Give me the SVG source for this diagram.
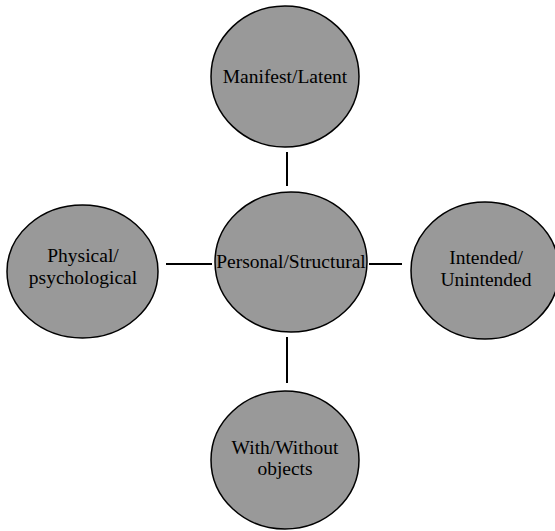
<svg xmlns="http://www.w3.org/2000/svg" width="555" height="531" viewBox="0 0 555 531">
<style>
.n{fill:#999999;stroke:#000;stroke-width:1.5}
.t{font-family:"Liberation Serif","Times New Roman",serif;font-size:19.5px;fill:#000;text-anchor:middle}
.c{stroke:#000;stroke-width:2;fill:none}
</style>
<rect width="555" height="531" fill="#fff"/>
<g id="connectors">
<line class="c" x1="287" y1="152" x2="287" y2="186"/>
<line class="c" x1="287" y1="337" x2="287" y2="383"/>
<line class="c" x1="166" y1="264" x2="212" y2="264"/>
<line class="c" x1="369" y1="264" x2="402" y2="264"/>
</g>
<g id="manifest">
<ellipse class="n" cx="285" cy="76.5" rx="74" ry="70.5"/>
<text class="t" x="285" y="83">Manifest/Latent</text>
</g>
<g id="personal">
<ellipse class="n" cx="291" cy="262" rx="76" ry="70"/>
<text class="t" x="291" y="268">Personal/Structural</text>
</g>
<g id="physical">
<ellipse class="n" cx="82.5" cy="271.5" rx="75.5" ry="66.5"/>
<text class="t" x="83" y="262">Physical/</text>
<text class="t" x="83" y="284">psychological</text>
</g>
<g id="intended">
<ellipse class="n" cx="485" cy="270.5" rx="74" ry="68.5"/>
<text class="t" x="486" y="264">Intended/</text>
<text class="t" x="486" y="286">Unintended</text>
</g>
<g id="with">
<ellipse class="n" cx="285" cy="460" rx="74" ry="69"/>
<text class="t" x="285" y="454">With/Without</text>
<text class="t" x="285" y="475">objects</text>
</g>
</svg>
